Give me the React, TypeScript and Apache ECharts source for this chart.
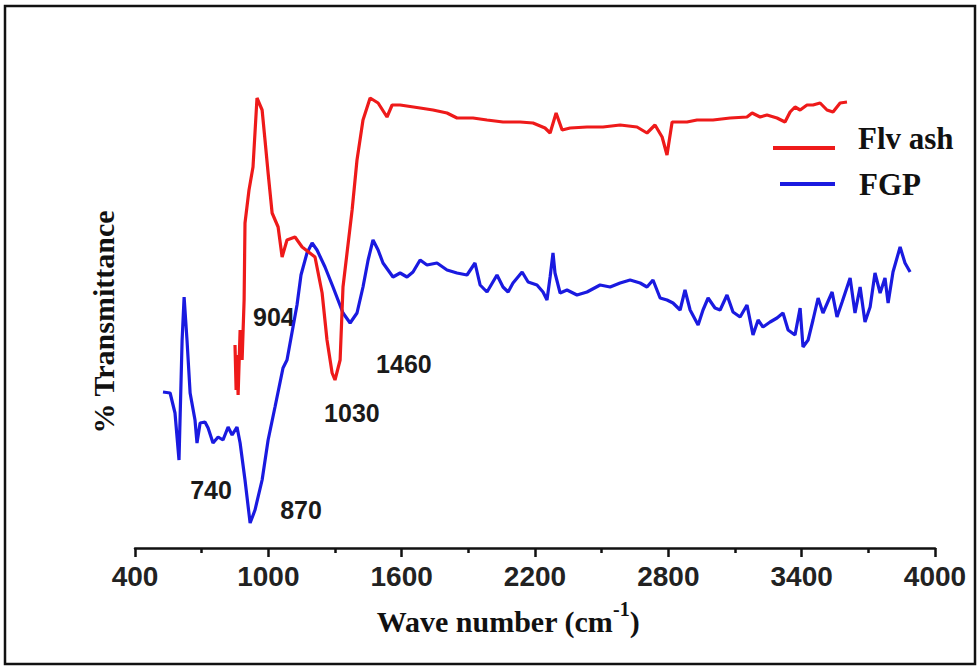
import React, { useEffect, useRef } from "react";
import * as echarts from "echarts";

// Flv ash (red) spectrum: wavenumber (cm-1) and % transmittance (arbitrary scale)
const flvAshWavenumber = [850, 855, 859, 864, 873, 882, 891, 895, 913, 931, 949, 972, 985, 999, 1017, 1044, 1062, 1084, 1120, 1152, 1210, 1242, 1264, 1287, 1300, 1323, 1336, 1377, 1399, 1426, 1458, 1494, 1534, 1557, 1593, 1683, 1741, 1804, 1849, 1921, 1984, 2056, 2133, 2191, 2245, 2268, 2295, 2322, 2358, 2434, 2506, 2583, 2659, 2704, 2740, 2772, 2794, 2817, 2884, 2929, 3001, 3078, 3154, 3177, 3213, 3244, 3289, 3325, 3348, 3370, 3393, 3424, 3451, 3483, 3514, 3541, 3573, 3604];
const flvAshTransmittance = [41.6, 32.6, 39.6, 31.6, 44.6, 38.6, 50.6, 66, 72.6, 77.2, 91, 88.6, 82.6, 76, 68, 65.2, 59.2, 62.6, 63.2, 61.2, 59.2, 52, 42.6, 36, 34.6, 38.6, 53.2, 68.6, 78.6, 86.6, 91, 90, 87.2, 89.6, 89.6, 89, 88.6, 88, 87, 87, 86.6, 86.2, 86.2, 86, 85, 84, 88, 84.6, 85, 85.2, 85.2, 85.6, 85.2, 84, 85.6, 83.2, 79.6, 86.2, 86.2, 86.6, 86.6, 87, 87.2, 88, 87.2, 87.6, 87, 86.2, 88.2, 89.2, 88.6, 89.6, 89.6, 90, 88.6, 88.2, 90, 90.2];

// FGP (blue) spectrum
const fgpWavenumber = [526, 558, 580, 598, 612, 621, 634, 648, 670, 679, 693, 715, 729, 751, 774, 796, 819, 837, 859, 873, 895, 918, 940, 972, 999, 1030, 1066, 1084, 1111, 1129, 1147, 1174, 1197, 1219, 1255, 1291, 1336, 1368, 1399, 1426, 1449, 1471, 1494, 1516, 1561, 1593, 1624, 1651, 1683, 1714, 1759, 1804, 1849, 1894, 1930, 1953, 1984, 2029, 2056, 2079, 2101, 2142, 2169, 2209, 2236, 2254, 2268, 2281, 2290, 2313, 2344, 2389, 2434, 2493, 2538, 2583, 2628, 2673, 2704, 2731, 2763, 2794, 2821, 2853, 2875, 2898, 2934, 2956, 2979, 3010, 3033, 3064, 3091, 3123, 3154, 3181, 3204, 3226, 3258, 3289, 3316, 3339, 3370, 3393, 3406, 3429, 3451, 3474, 3496, 3537, 3559, 3582, 3618, 3640, 3663, 3685, 3708, 3730, 3753, 3775, 3789, 3811, 3843, 3865, 3888];
const fgpTransmittance = [32.2, 32, 28, 18.6, 42.6, 51.2, 42.6, 32, 26.6, 22, 26, 26.2, 25, 22, 23.2, 22.6, 25.2, 23.6, 25.2, 22, 14.6, 6, 8.6, 14.6, 22.6, 29.2, 37, 38.6, 45.2, 49.6, 55.6, 60, 62, 60.6, 57.2, 53.2, 48, 46, 48, 53.2, 58.6, 62.6, 60.6, 58, 55.2, 56, 55.2, 56.2, 58.6, 57.6, 58, 56.6, 56, 55.6, 58, 53.6, 52.2, 55.6, 53.2, 52.2, 54, 56.2, 54.2, 53.6, 52.2, 50.6, 55.2, 60, 56, 52, 52.6, 51.6, 52.2, 53.6, 53.2, 54, 54.6, 54, 53.2, 54.6, 51, 50.6, 50, 48.6, 52.6, 48.6, 45.6, 48.6, 51, 49, 48.6, 51.6, 48.2, 47.2, 49.6, 43.6, 46.6, 45.2, 46.2, 47, 48, 44.6, 43.6, 49, 41.2, 42.6, 46.6, 51, 48, 52.2, 47.2, 50.2, 55, 48, 53.2, 46.2, 49.2, 56, 52, 55, 50, 56.2, 61.2, 58, 56.2];

const seriesNames = ["Flv ash", "FGP"];
const xTicks = [400, 1000, 1600, 2200, 2800, 3400, 4000];

// peak annotations: label, position in wavenumber / transmittance
const peakLabels = ["904", "1460", "1030", "740", "870"];
const peakLabelX = [1025, 1610, 1376, 742, 1147];
const peakLabelY = [47.2, 37.8, 28, 12.6, 8.6];

const RED = "#ee1a1a";
const BLUE = "#1a1ae0";

export default function App() {
  const ref = useRef<HTMLDivElement>(null);
  useEffect(() => {
    document.body.style.margin = "0";
    const chart = echarts.init(ref.current!, null, { renderer: "svg" });
    const toPairs = (xs: number[], ys: number[]) => xs.map((x, i) => [x, ys[i]]);
    const serifBold = '"Liberation Serif", "Times New Roman", serif';
    const sansBold = '"Liberation Sans", Arial, sans-serif';

    const option: any = {
      animation: false,
      backgroundColor: "#ffffff",
      grid: { left: 135, right: 44, top: 48, bottom: 121 },
      xAxis: {
        type: "value",
        min: xTicks[0],
        max: xTicks[xTicks.length - 1],
        interval: 600,
        axisLine: { show: true, onZero: false, lineStyle: { color: "#111", width: 2.5 } },
        axisTick: { show: true, length: 9, lineStyle: { color: "#111", width: 2.5 } },
        minorTick: { show: true, splitNumber: 2, length: 5, lineStyle: { color: "#111", width: 2.5 } },
        axisLabel: {
          margin: 14,
          color: "#222",
          fontSize: 28,
          fontWeight: "bold",
          fontFamily: sansBold,
          formatter: (v: number) => String(v),
        },
        splitLine: { show: false },
      },
      yAxis: {
        type: "value",
        min: 1,
        max: 101,
        show: true,
        axisLine: { show: false },
        axisTick: { show: false },
        axisLabel: { show: false },
        splitLine: { show: false },
      },
      series: [
        {
          name: seriesNames[0],
          type: "line",
          data: toPairs(flvAshWavenumber, flvAshTransmittance),
          showSymbol: false,
          lineStyle: { color: RED, width: 3.2 },
          itemStyle: { color: RED },
          z: 3,
        },
        {
          name: seriesNames[1],
          type: "line",
          data: toPairs(fgpWavenumber, fgpTransmittance),
          showSymbol: false,
          lineStyle: { color: BLUE, width: 3.2 },
          itemStyle: { color: BLUE },
          z: 2,
        },
      ],
    };
    chart.setOption(option);

    const graphics: any[] = [
      {
        type: "rect",
        shape: { x: 5, y: 6, width: 970, height: 658 },
        style: { fill: "none", stroke: "#111", lineWidth: 2.5 },
        silent: true,
      },
      {
        type: "text",
        x: 103,
        y: 322,
        rotation: Math.PI / 2,
        style: {
          text: "% Transmittance",
          font: `bold 30px ${serifBold}`,
          fill: "#111",
          align: "center",
          verticalAlign: "middle",
          textAlign: "center",
          textVerticalAlign: "middle",
        },
      },
      {
        type: "text",
        x: 508,
        y: 621,
        style: {
          text: "{a|Wave number (cm}{b|-1}{a|)}",
          align: "center",
          verticalAlign: "middle",
          textAlign: "center",
          textVerticalAlign: "middle",
          rich: {
            a: { fontSize: 30, fontWeight: "bold", fontFamily: serifBold, fill: "#111", lineHeight: 44 },
            b: { fontSize: 20, fontWeight: "bold", fontFamily: serifBold, fill: "#111", lineHeight: 20, verticalAlign: "top" },
          },
        },
      },
      {
        type: "line",
        shape: { x1: 773, y1: 148, x2: 835, y2: 148 },
        style: { stroke: RED, lineWidth: 4 },
      },
      {
        type: "line",
        shape: { x1: 780, y1: 184, x2: 835, y2: 184 },
        style: { stroke: BLUE, lineWidth: 4 },
      },
      {
        type: "text",
        x: 858,
        y: 138,
        style: {
          text: seriesNames[0],
          font: `bold 31px ${serifBold}`,
          fill: "#111",
          align: "left",
          verticalAlign: "middle",
          textAlign: "left",
          textVerticalAlign: "middle",
        },
      },
      {
        type: "text",
        x: 859,
        y: 184,
        style: {
          text: seriesNames[1],
          font: `bold 31px ${serifBold}`,
          fill: "#111",
          align: "left",
          verticalAlign: "middle",
          textAlign: "left",
          textVerticalAlign: "middle",
        },
      },
    ];

    peakLabels.forEach((label, i) => {
      const [px, py] = chart.convertToPixel({ gridIndex: 0 }, [peakLabelX[i], peakLabelY[i]]) as number[];
      graphics.push({
        type: "text",
        x: px,
        y: py,
        style: {
          text: label,
          font: `bold 25px ${sansBold}`,
          fill: "#1a1a1a",
          align: "center",
          verticalAlign: "middle",
          textAlign: "center",
          textVerticalAlign: "middle",
        },
      });
    });

    chart.setOption({ graphic: graphics });
    return () => chart.dispose();
  }, []);
  return <div ref={ref} style={{ width: 979, height: 669 }} />;
}
